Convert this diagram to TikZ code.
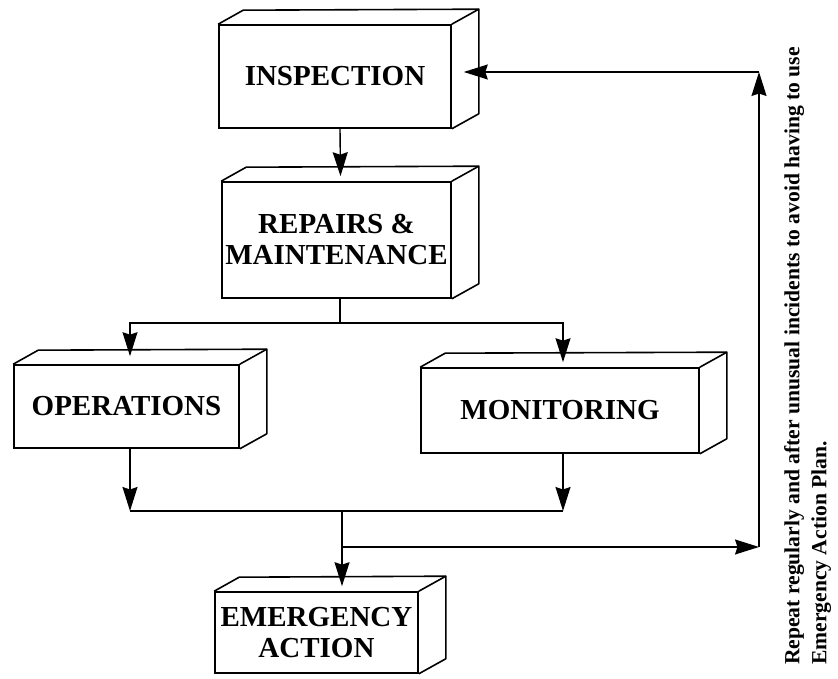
\documentclass[tikz,border=0pt]{standalone}
\usepackage{fontspec}
\setmainfont{Liberation Serif}
\usetikzlibrary{arrows.meta, calc, positioning}

\tikzset{
  block/.style = {draw, line width=1.6pt, inner sep=0pt, align=center,
                  font=\fontsize{29}{31}\selectfont\bfseries},
  edge/.style  = {line width=1.6pt, line join=round},
  arr/.style   = {line width=1.4pt, -{Stealth[length=24pt, width=15pt, inset=2.5pt]}},
  link/.style  = {line width=1.4pt},
  note/.style  = {align=left, inner sep=0pt,
                  font=\fontsize{21.6}{27}\selectfont\bfseries}
}

% top and side faces of a block
\newcommand{\cuboid}[1]{%
  \draw[edge] (#1.north west) -- ++(25,14) -- ($(#1.north east)+(27,15)$)
    -- ($(#1.south east)+(27,15)$) -- (#1.south east);
  \draw[edge] (#1.north east) -- ++(27,15);
}

\begin{document}
\begin{tikzpicture}[x=1pt, y=1pt]
  \useasboundingbox (0,0) rectangle (838,679);

  \node[block, minimum width=232pt, minimum height=103pt] (insp) at (335,602.5) {INSPECTION};
  \node[block, minimum width=229pt, minimum height=116pt] (rep) at (336.5,439) {REPAIRS \&\\MAINTENANCE};
  \node[block, minimum width=225pt, minimum height=83pt] (ops) at (126.5,272.5) {OPERATIONS};
  \node[block, minimum width=278pt, minimum height=85pt] (mon) at (560,268.5) {MONITORING};
  \node[block, minimum width=203pt, minimum height=81pt] (emg) at (316.5,46.5) {EMERGENCY\\ACTION};
  \cuboid{insp}
  \cuboid{rep}
  \cuboid{ops}
  \cuboid{mon}
  \cuboid{emg}

  \node[note, rotate=90, anchor=north west] (note) at (784,14)
    {Repeat regularly and after unusual incidents to avoid having to use\\Emergency Action Plan.};

  \coordinate (split) at (340,356);
  \coordinate (join) at (342,168);
  \coordinate (fb) at (342,132);
  \coordinate (c1) at (759,132);
  \coordinate (c2) at (759,607);

  \draw[arr] ($(insp.south)+(5,0)$) -- ($(rep.north)+(4,5)$);
  \draw[link] ($(rep.south)+(3.5,0)$) -- (split);
  \draw[arr] (split) -| ($(ops.north)+(3.5,8)$);
  \draw[arr] (split) -| ($(mon.north)+(3,5)$);
  \draw[arr] ($(ops.south)+(3.5,0)$) -- ($(ops.south|-join)+(3.5,0)$);
  \draw[arr] ($(mon.south)+(3,0)$) -- ($(mon.south|-join)+(3,0)$);
  \draw[link] ($(ops.south|-join)+(3.5,0)$) -- ($(mon.south|-join)+(3,0)$);
  \draw[arr] (join) -- ($(emg.north)+(25.5,5)$);
  \draw[arr] (fb) -- (c1);
  \draw[arr] (c1) -- (c2);
  \draw[arr] (c2) -- ($(insp.east|-c2)+(12,0)$);
\end{tikzpicture}
\end{document}
